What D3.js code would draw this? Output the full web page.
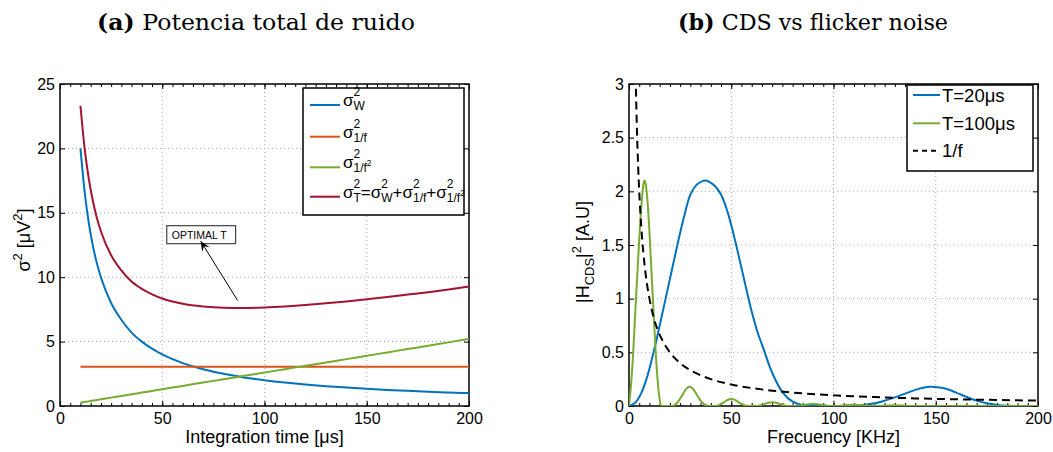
<!DOCTYPE html>
<html><head><meta charset="utf-8">
<script src="https://cdn.jsdelivr.net/npm/d3@7"></script>
<style>body{margin:0;background:#fff}svg{display:block}</style>
</head><body>
<svg id="c" width="1053" height="452"></svg>
<script>
// ---------- Panel (a) data ----------
const timeUs   = [10,12,14,16,18,20,25,30,35,40,45,50,60,70,80,90,100,110,120,130,140,150,160,170,180,190,200];
const sigmaW   = [20.0,16.7,14.3,12.5,11.1,10.0,8.0,6.7,5.7,5.0,4.45,4.0,3.33,2.86,2.5,2.22,2.0,1.82,1.67,1.54,1.43,1.33,1.25,1.18,1.11,1.05,1.0];
const sigma1f  = [3.05,3.05,3.05,3.05,3.05,3.05,3.05,3.05,3.05,3.05,3.05,3.05,3.05,3.05,3.05,3.05,3.05,3.05,3.05,3.05,3.05,3.05,3.05,3.05,3.05,3.05,3.05];
const sigma1f2 = [0.26,0.31,0.36,0.42,0.47,0.52,0.65,0.78,0.91,1.04,1.17,1.3,1.56,1.82,2.08,2.34,2.6,2.86,3.12,3.38,3.64,3.9,4.16,4.42,4.68,4.94,5.22];
const sigmaT   = [23.31,20.06,17.71,15.97,14.62,13.57,11.70,10.53,9.66,9.09,8.67,8.35,7.94,7.73,7.63,7.61,7.65,7.73,7.84,7.97,8.12,8.28,8.46,8.65,8.84,9.04,9.27];
const xTicksA = [0,50,100,150,200];
const yTicksA = [0,5,10,15,20,25];

// ---------- Panel (b) data ----------
const freqBlue = [0,3,6,9,12,15,18,21,24,27,30,33,36,37.5,39,42,45,48,51,54,57,60,63,66,70,75,80,85,90,95,100,105,110,115,120,125,130,135,140,145,147,150,155,160,165,170,175,180,185,190,200];
const hT20     = [0,0.03,0.12,0.28,0.5,0.75,1.01,1.27,1.53,1.77,1.97,2.06,2.095,2.1,2.09,2.05,1.97,1.82,1.61,1.37,1.12,0.88,0.68,0.52,0.31,0.13,0.04,0.008,0.001,0,0,0.001,0.003,0.01,0.025,0.05,0.08,0.115,0.15,0.175,0.18,0.177,0.16,0.125,0.085,0.05,0.025,0.01,0.002,0,0];
const freqGreen = [0,1,2,3,4,5,6,7,7.5,8,9,10,11,12,13,14,15,16,20,22,24,26,28,29.5,31,33,35,37,39,42,44,46,48,50,52,54,56,58,62,65,68,70,72,75,78,82,86,90,94,98,102,106,110,114,118,122,126,130,134,138,200];
const hT100     = [0,0.2,0.48,0.85,1.2,1.55,1.85,2.06,2.1,2.08,1.92,1.62,1.25,0.88,0.52,0.24,0.06,0,0,0.005,0.04,0.1,0.16,0.18,0.165,0.11,0.05,0.012,0,0,0.008,0.03,0.055,0.065,0.055,0.03,0.01,0,0,0.012,0.03,0.035,0.03,0.01,0,0,0.012,0.02,0.012,0,0,0.007,0.012,0.007,0,0,0.005,0.008,0.005,0,0];
const freqInv = [3.125,3.5,4,4.5,5,6,7,8,9,10,12,14,16,18,20,25,30,35,40,50,60,70,80,100,120,140,160,180,200];
const invF    = [3.2,2.86,2.5,2.22,2.0,1.67,1.43,1.25,1.11,1.0,0.83,0.71,0.625,0.556,0.5,0.4,0.333,0.286,0.25,0.2,0.167,0.143,0.125,0.1,0.083,0.071,0.0625,0.056,0.05];
const xTicksB = [0,50,100,150,200];
const yTicksB = [0,0.5,1,1.5,2,2.5,3];
const minorX = [0,5,10,15,20,25,30,35,40,45,50,55,60,65,70,75,80,85,90,95,100,105,110,115,120,125,130,135,140,145,150,155,160,165,170,175,180,185,190,195,200];

const C = {blue:"#0072BD", orange:"#D95319", green:"#77AC30", red:"#A2142F"};
const SANS = "Liberation Sans, Arial, Helvetica, sans-serif";

const svg = d3.select("#c");
svg.append("rect").attr("width",1053).attr("height",452).attr("fill","#fff");

const xA = d3.scaleLinear().domain([0,200]).range([60,469]);
const yA = d3.scaleLinear().domain([0,25]).range([406,84]);
const xB = d3.scaleLinear().domain([0,200]).range([629,1038]);
const yB = d3.scaleLinear().domain([0,3]).range([406,84]);

function axes(g, x, y, xt, yt){
  const [x0,x1]=x.range(), [y0,y1]=y.range();
  const grid = g.append("g").attr("stroke","#a0a0a0").attr("stroke-width",0.9).attr("stroke-dasharray","1,3");
  grid.selectAll(".gx").data(xt.filter(v=>x(v)>x0+1&&x(v)<x1-1)).join("line")
    .attr("x1",d=>x(d)).attr("x2",d=>x(d)).attr("y1",y1).attr("y2",y0);
  grid.selectAll(".gy").data(yt.filter(v=>y(v)<y0-1&&y(v)>y1+1)).join("line")
    .attr("y1",d=>y(d)).attr("y2",d=>y(d)).attr("x1",x0).attr("x2",x1);
  const fmt = d=>String(d);
  const st = s=>{s.select(".domain").remove(); s.attr("font-family",SANS).attr("font-size",16);
    s.selectAll(".tick text").attr("fill","#000"); s.selectAll(".tick line").attr("stroke","#000");};
  g.append("g").attr("transform",`translate(0,${y0})`)
    .call(d3.axisBottom(x).tickValues(xt).tickFormat(fmt).tickSizeInner(-5).tickSizeOuter(0).tickPadding(7)).call(st);
  g.append("g").attr("transform",`translate(0,${y0})`)
    .call(d3.axisBottom(x).tickValues(minorX).tickFormat("").tickSizeInner(-3).tickSizeOuter(0)).call(st);
  g.append("g").attr("transform",`translate(0,${y1})`)
    .call(d3.axisTop(x).tickValues(xt).tickFormat("").tickSizeInner(-5).tickSizeOuter(0)).call(st);
  g.append("g").attr("transform",`translate(0,${y1})`)
    .call(d3.axisTop(x).tickValues(minorX).tickFormat("").tickSizeInner(-3).tickSizeOuter(0)).call(st);
  g.append("g").attr("transform",`translate(${x0},0)`)
    .call(d3.axisLeft(y).tickValues(yt).tickFormat(fmt).tickSizeInner(-5).tickSizeOuter(0).tickPadding(5)).call(st);
  g.append("g").attr("transform",`translate(${x1},0)`)
    .call(d3.axisRight(y).tickValues(yt).tickFormat("").tickSizeInner(-5).tickSizeOuter(0)).call(st);
  g.append("rect").attr("x",x0).attr("y",y1).attr("width",x1-x0).attr("height",y0-y1)
    .attr("fill","none").attr("stroke","#000").attr("stroke-width",1.5);
}

// math-ish label helper
function mathText(g, x, y, parts, fs, sfs){
  let cx = x;
  parts.forEach(p=>{
    if(p.t){
      const t = g.append("text").attr("x",cx).attr("y",y).attr("font-family",SANS).attr("font-size",fs).text(p.t);
      cx += t.node().getComputedTextLength();
    }
    let w = 0;
    if(p.sup){
      const s = g.append("text").attr("x",cx).attr("y",y-10).attr("font-family",SANS).attr("font-size",sfs).text(p.sup);
      w = Math.max(w, s.node().getComputedTextLength());
    }
    if(p.sub){
      const s = g.append("text").attr("x",cx).attr("y",y+4).attr("font-family",SANS).attr("font-size",sfs).text(p.sub);
      let sw = s.node().getComputedTextLength();
      if(p.subsup){
        const s2 = g.append("text").attr("x",cx+sw).attr("y",y-2).attr("font-family",SANS).attr("font-size",sfs*0.7).text(p.subsup);
        sw += s2.node().getComputedTextLength();
      }
      w = Math.max(w, sw);
    }
    cx += w;
  });
  return cx;
}

// ---------- Titles ----------
function title(cx, bold, rest, len){
  const t = svg.append("text").attr("x",cx).attr("y",30).attr("text-anchor","middle")
    .attr("font-family","DejaVu Serif, Liberation Serif, serif").attr("font-size",23)
    .attr("textLength",len).attr("lengthAdjust","spacingAndGlyphs");
  t.append("tspan").attr("font-weight","bold").text(bold);
  t.append("tspan").text(" "+rest);
}
title(256, "(a)", "Potencia total de ruido", 318);
title(813, "(b)", "CDS vs flicker noise", 270);

// ---------- Panel A ----------
const gA = svg.append("g");
axes(gA, xA, yA, xTicksA, yTicksA);
const lineA = vals => d3.line().x((d,i)=>xA(timeUs[i])).y(d=>yA(d)).curve(d3.curveMonotoneX)(vals);
[[sigmaW,C.blue],[sigma1f,C.orange],[sigma1f2,C.green],[sigmaT,C.red]].forEach(([v,c])=>{
  gA.append("path").attr("d",lineA(v)).attr("fill","none").attr("stroke",c).attr("stroke-width",2);
});
gA.append("text").attr("x",xA(100)).attr("y",443).attr("text-anchor","middle")
  .attr("font-family",SANS).attr("font-size",18).text("Integration time [μs]");
{
  const t = gA.append("text").attr("transform","translate(30,240) rotate(-90)").attr("text-anchor","middle")
    .attr("font-family",SANS).attr("font-size",18);
  t.append("tspan").text("σ");
  t.append("tspan").attr("dy",-8).attr("font-size",13).text("2");
  t.append("tspan").attr("dy",8).text(" [μV");
  t.append("tspan").attr("dy",-8).attr("font-size",13).text("2");
  t.append("tspan").attr("dy",8).text("]");
}
// annotation (data units)
const annotation = {text:"OPTIMAL T", boxX:52.2, boxY:14.0, tail:[86.9,8.18], head:[68.8,12.8]};
{
  const bx = xA(annotation.boxX), by = yA(annotation.boxY);
  const box = gA.append("rect").attr("x",bx).attr("y",by).attr("height",18)
    .attr("fill","#fff").attr("stroke","#444").attr("stroke-width",1.2);
  const tt = gA.append("text").attr("x",bx+5).attr("y",by+13).attr("font-family",SANS).attr("font-size",10.5).text(annotation.text);
  box.attr("width", tt.node().getComputedTextLength()+14);
  const x1=xA(annotation.tail[0]), y1=yA(annotation.tail[1]), x2=xA(annotation.head[0]), y2=yA(annotation.head[1]);
  gA.append("line").attr("x1",x1).attr("y1",y1).attr("x2",x2).attr("y2",y2).attr("stroke","#000").attr("stroke-width",1);
  const L=Math.hypot(x2-x1,y2-y1), ux=(x2-x1)/L, uy=(y2-y1)/L, px=-uy, py=ux;
  const hl=10, hw=4.5, nb=6;
  const pts=[[x2,y2],[x2-ux*hl+px*hw,y2-uy*hl+py*hw],[x2-ux*nb,y2-uy*nb],[x2-ux*hl-px*hw,y2-uy*hl-py*hw]];
  gA.append("path").attr("d","M"+pts.map(p=>p.join(",")).join("L")+"Z").attr("fill","#000");
}
// legend A
{
  const lg = gA.append("g");
  lg.append("rect").attr("x",303).attr("y",88).attr("width",161).attr("height",127)
    .attr("fill","#fff").attr("stroke","#000").attr("stroke-width",1.5);
  const ys=[105,136.7,167.3,196.7], cols=[C.blue,C.orange,C.green,C.red];
  const labels=[
    [{t:"σ",sup:"2",sub:"W"}],
    [{t:"σ",sup:"2",sub:"1/f"}],
    [{t:"σ",sup:"2",sub:"1/f",subsup:"2"}],
    [{t:"σ",sup:"2",sub:"T"},{t:"=σ",sup:"2",sub:"W"},{t:"+σ",sup:"2",sub:"1/f"},{t:"+σ",sup:"2",sub:"1/f",subsup:"2"}]
  ];
  ys.forEach((y,i)=>{
    lg.append("line").attr("x1",310).attr("x2",340).attr("y1",y).attr("y2",y).attr("stroke",cols[i]).attr("stroke-width",2);
    mathText(lg, 343, y+1, labels[i], 17, 12);
  });
}

// ---------- Panel B ----------
const gB = svg.append("g");
axes(gB, xB, yB, xTicksB, yTicksB);
svg.append("clipPath").attr("id","clipB").append("rect").attr("x",629).attr("y",84).attr("width",409).attr("height",322);
const lineB = (fx, vals, curve) => d3.line().x((d,i)=>xB(fx[i])).y(d=>yB(d)).curve(curve)(vals);
const cb = gB.append("g").attr("clip-path","url(#clipB)");
cb.append("path").attr("d",lineB(freqBlue,hT20,d3.curveCatmullRom.alpha(0.5))).attr("fill","none").attr("stroke",C.blue).attr("stroke-width",2);
cb.append("path").attr("d",lineB(freqGreen,hT100,d3.curveMonotoneX)).attr("fill","none").attr("stroke",C.green).attr("stroke-width",2);
cb.append("path").attr("d",lineB(freqInv,invF,d3.curveMonotoneX)).attr("fill","none").attr("stroke","#000").attr("stroke-width",2).attr("stroke-dasharray","8,5");
gB.append("text").attr("x",xB(100)).attr("y",443).attr("text-anchor","middle")
  .attr("font-family",SANS).attr("font-size",18).text("Frecuency [KHz]");
{
  const t = gB.append("text").attr("transform","translate(589,252) rotate(-90)").attr("text-anchor","middle")
    .attr("font-family",SANS).attr("font-size",18);
  t.append("tspan").text("|H");
  t.append("tspan").attr("dy",5).attr("font-size",13).text("CDS");
  t.append("tspan").attr("dy",-5).text("|");
  t.append("tspan").attr("dy",-8).attr("font-size",13).text("2");
  t.append("tspan").attr("dy",8).text(" [A.U]");
}
// legend B
{
  const lg = gB.append("g");
  lg.append("rect").attr("x",907).attr("y",85).attr("width",126).attr("height",86)
    .attr("fill","#fff").attr("stroke","#000").attr("stroke-width",1.5);
  const items=[["T=20μs",C.blue,null],["T=100μs",C.green,null],["1/f","#000","5,4"]];
  [95,123.3,150.7].forEach((y,i)=>{
    const l = lg.append("line").attr("x1",913).attr("x2",940).attr("y1",y).attr("y2",y).attr("stroke",items[i][1]).attr("stroke-width",2);
    if(items[i][2]) l.attr("stroke-dasharray",items[i][2]);
    lg.append("text").attr("x",942).attr("y",y+6.5).attr("font-family",SANS).attr("font-size",18.5).text(items[i][0]);
  });
}
</script>
</body></html>
